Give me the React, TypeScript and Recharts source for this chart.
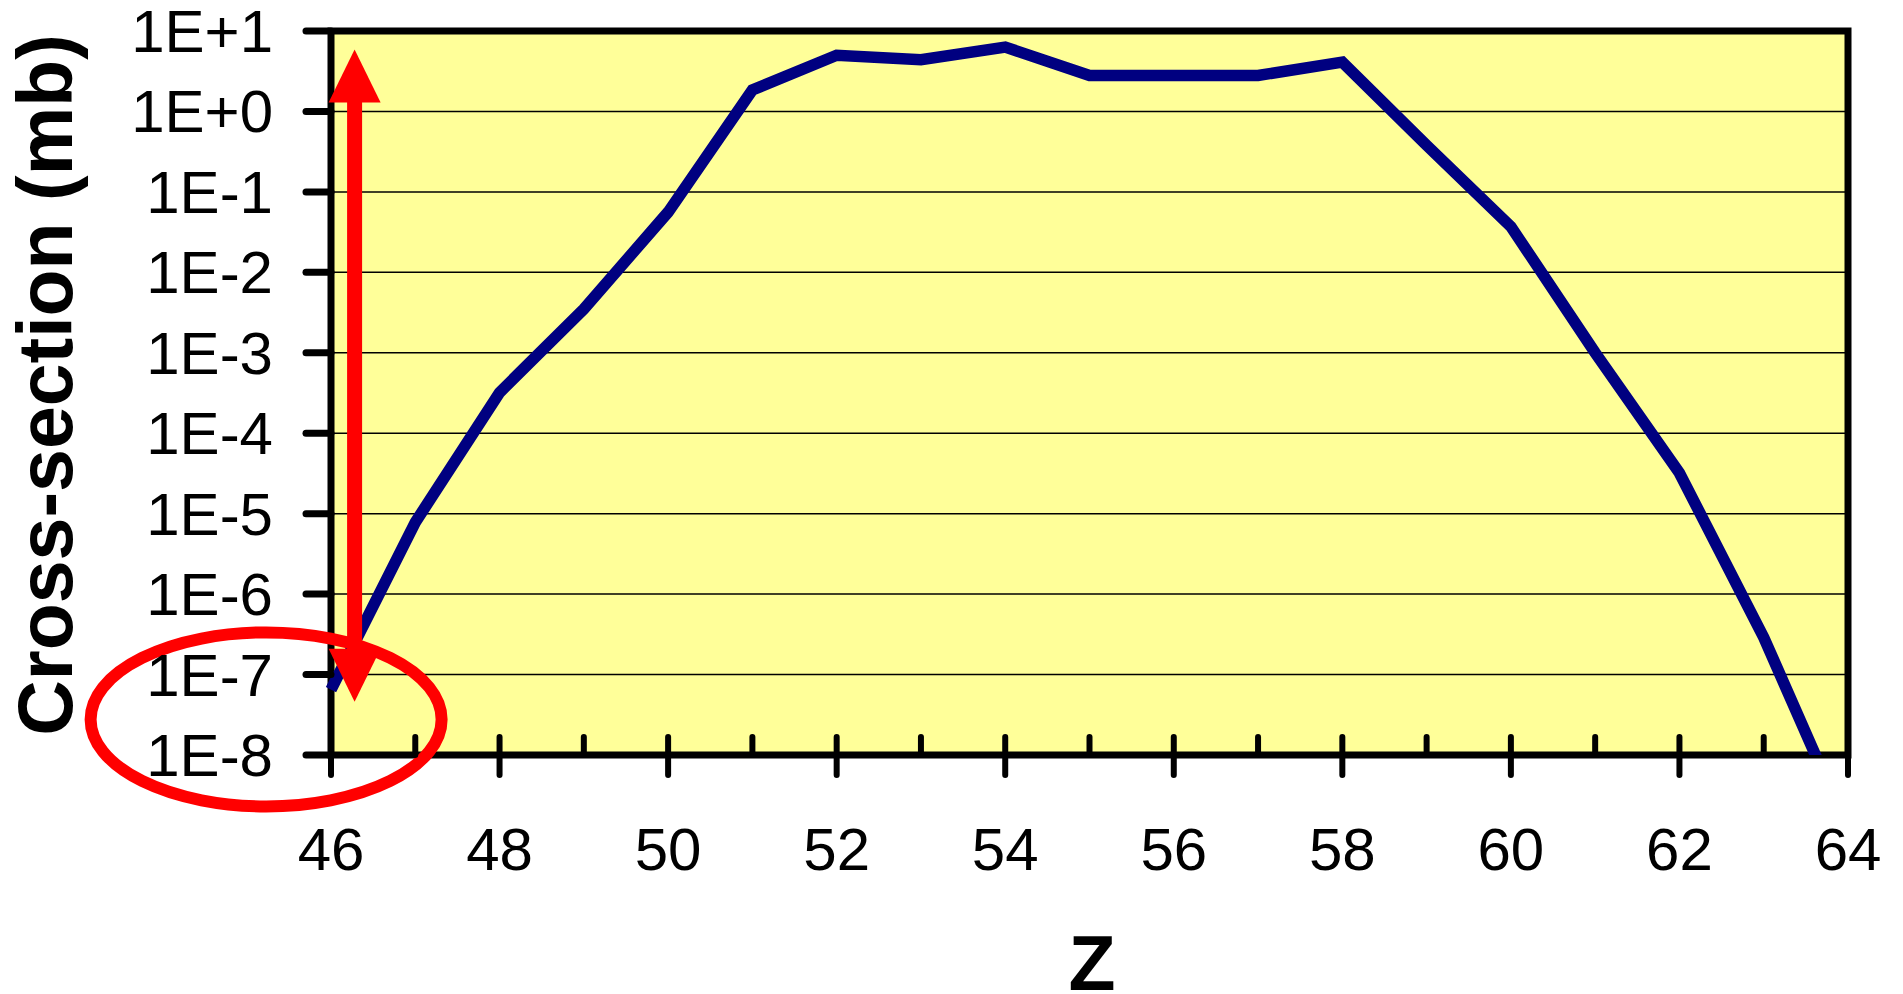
import React from "react"
import { LineChart, Line, XAxis, YAxis, CartesianGrid, ReferenceArea, ReferenceLine, ReferenceDot } from "recharts"

// proton number Z and measured cross-sections (mb)
const zValues = [46, 47, 48, 49, 50, 51, 52, 53, 54, 55, 56, 57, 58, 59, 60, 61, 62, 63, 64]
const crossSection = [
  6.5e-8, 7.8e-6, 3.2e-4, 3.5e-3, 0.056, 1.85, 5.0, 4.4, 6.3, 2.8,
  2.8, 2.8, 4.1, 0.38, 0.037, 1.0e-3, 3.2e-5, 2.9e-7, 1.2e-9,
]
const zTicks = [46, 47, 48, 49, 50, 51, 52, 53, 54, 55, 56, 57, 58, 59, 60, 61, 62, 63, 64]
const yTicks = [1e-8, 1e-7, 1e-6, 1e-5, 1e-4, 1e-3, 1e-2, 1e-1, 1, 10]
const yTickLabels = ["1E-8", "1E-7", "1E-6", "1E-5", "1E-4", "1E-3", "1E-2", "1E-1", "1E+0", "1E+1"]

// annotation: double arrow and ellipse around the lower limit
const arrowZ = 46.28
const arrowTop = 5.9
const arrowBottom = 4.6e-8
const ringZ = 45.23
const ringValue = 2.77e-8

const data = zValues.map((z, i) => ({ z, sigma: crossSection[i] }))

const FONT = "'Liberation Sans', Arial, sans-serif"
const PLOT_LEFT = 331
const PLOT_BOTTOM = 755

function XTick(props: any) {
  const { x, payload } = props
  const major = payload.value % 2 === 0
  return (
    <g>
      <line
        x1={x}
        x2={x}
        y1={PLOT_BOTTOM - 18}
        y2={major ? PLOT_BOTTOM + 20 : PLOT_BOTTOM}
        stroke="#000"
        strokeWidth={6}
        strokeLinecap="round"
      />
      {major && (
        <text x={x} y={870} textAnchor="middle" fontSize={60} fontFamily={FONT} fill="#000">
          {payload.value}
        </text>
      )}
    </g>
  )
}

function YTick(props: any) {
  const { y, payload } = props
  const idx = yTicks.findIndex((t) => Math.abs(Math.log10(t) - Math.log10(payload.value)) < 1e-6)
  return (
    <g>
      <line x1={PLOT_LEFT - 25} x2={PLOT_LEFT} y1={y} y2={y} stroke="#000" strokeWidth={7} strokeLinecap="round" />
      <text x={273} y={y + 21} textAnchor="end" fontSize={60} fontFamily={FONT} fill="#000">
        {idx >= 0 ? yTickLabels[idx] : ""}
      </text>
    </g>
  )
}

function XTitle() {
  return (
    <text x={1092} y={990} textAnchor="middle" fontSize={77} fontWeight="bold" fontFamily={FONT} fill="#000">
      Z
    </text>
  )
}

function YTitle() {
  return (
    <text
      x={72}
      y={385}
      transform="rotate(-90 72 385)"
      textAnchor="middle"
      fontSize={77}
      fontWeight="bold"
      fontFamily={FONT}
      fill="#000"
    >
      Cross-section (mb)
    </text>
  )
}

function DoubleArrow(props: any) {
  const { x1, y1, y2 } = props
  const head = 53
  const half = 26
  return (
    <g>
      <rect x={x1 - 7.5} y={y1 + head - 1} width={15} height={y2 - y1 - 2 * head + 2} fill="#FF0000" />
      <polygon points={`${x1},${y1} ${x1 - half},${y1 + head} ${x1 + half},${y1 + head}`} fill="#FF0000" />
      <polygon points={`${x1},${y2} ${x1 - half},${y2 - head} ${x1 + half},${y2 - head}`} fill="#FF0000" />
    </g>
  )
}

function Ring(props: any) {
  const { cx, cy } = props
  return <ellipse cx={cx} cy={cy} rx={175.5} ry={87} fill="none" stroke="#FF0000" strokeWidth={12} />
}

export default function App() {
  return (
    <div style={{ position: "absolute", left: 0, top: 0, width: 1903, height: 994, background: "#fff" }}>
      <LineChart width={1903} height={994} data={data} margin={{ top: 31, right: 55, bottom: 0, left: 0 }}>
        <CartesianGrid vertical={false} stroke="#000" strokeWidth={1.5} fill="#FFFF99" fillOpacity={1} />
        <XAxis
          dataKey="z"
          type="number"
          domain={[46, 64]}
          ticks={zTicks}
          interval={0}
          height={239}
          axisLine={false}
          tickLine={false}
          tick={<XTick />}
          label={<XTitle />}
        />
        <YAxis
          scale="log"
          domain={[1e-8, 10]}
          ticks={yTicks}
          interval={0}
          allowDataOverflow
          width={331}
          axisLine={false}
          tickLine={false}
          tick={<YTick />}
          label={<YTitle />}
        />
        <Line
          dataKey="sigma"
          type="linear"
          stroke="#000080"
          strokeWidth={11.5}
          dot={false}
          activeDot={false}
          isAnimationActive={false}
        />
        <ReferenceArea
          x1={46}
          x2={64}
          y1={1e-8}
          y2={10}
          fill="none"
          fillOpacity={0}
          stroke="#000"
          strokeWidth={7}
          ifOverflow="visible"
        />
        <ReferenceLine
          segment={[
            { x: arrowZ, y: arrowTop },
            { x: arrowZ, y: arrowBottom },
          ]}
          ifOverflow="visible"
          shape={DoubleArrow}
        />
        <ReferenceDot x={ringZ} y={ringValue} r={1} ifOverflow="visible" shape={Ring} />
      </LineChart>
    </div>
  )
}
